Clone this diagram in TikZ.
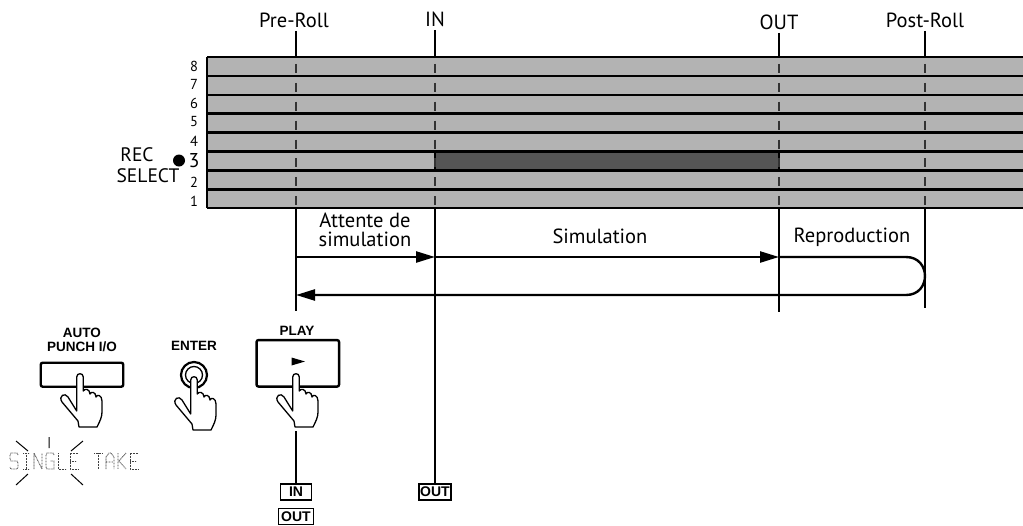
\documentclass[tikz,border=0pt]{standalone}
\usepackage{fontspec}
\setmainfont{PT Sans}
\newfontfamily\keyfont{Liberation Sans}
\usetikzlibrary{arrows.meta}
\definecolor{trackgray}{HTML}{B3B3B3}
\definecolor{recgray}{HTML}{555555}
\tikzset{
  thinline/.style={line width=1.3pt},
  trackline/.style={line width=2.5pt},
  markline/.style={line width=2pt, draw=black!80, dash pattern=on 9pt off 9.9pt, dash phase=12pt},
  flow/.style={line width=2.4pt},
  tip/.style={-{Triangle[length=19pt,width=11pt]}},
  keylabel/.style={font=\keyfont\bfseries\fontsize{13.5}{14}\selectfont, align=center, inner sep=0pt},
  keybox/.style={draw, line width=1.3pt, font=\keyfont\bfseries\fontsize{14}{14}\selectfont,
                 minimum width=31pt, minimum height=16pt, inner sep=1.2pt},
  button/.style={draw, line width=2.4pt, rounded corners=2pt},
  tracknum/.style={font=\fontsize{14.5}{14.5}\selectfont, inner sep=0pt},
  lcd/.style={draw=black!75, line width=0.8pt, dash pattern=on 0.8pt off 0.7pt},
  % pointing hand, origin at the finger tip
  hand/.pic={
    \filldraw[fill=white, line width=1.3pt, line join=round]
      (-3.3,4) -- (-3.3,38) -- (-12,24)
      .. controls (-15,19) and (-22,23) .. (-18,29)
      -- (-2,48) -- (-1,54) -- (17,54)
      .. controls (20,48) and (22,44) .. (22,39) -- (22,28)
      .. controls (22,22) and (17,21) .. (16,24)
      .. controls (16,19) and (11,18) .. (10,21)
      .. controls (10,16) and (4.5,15) .. (3.3,18)
      -- (3.3,4) .. controls (3.3,-0.4) and (-3.3,-0.4) .. (-3.3,4) -- cycle;
  }
}
\begin{document}
\begin{tikzpicture}[x=1pt, y=-1pt, font=\fontsize{20.5}{20.5}\selectfont]
\useasboundingbox (0,0) rectangle (1023,525);

% time marks
\coordinate (pre) at (296,208);
\coordinate (in) at (435,208);
\coordinate (out) at (779,208);
\coordinate (post) at (925,208);

% the eight tracks
\fill[trackgray] (207,57) rectangle (1023,208);
\filldraw[fill=recgray, line width=2pt] (435,151.5) rectangle (779,170.4);
\foreach \x in {296,435,779,925}
  \draw[markline] (\x,57) -- (\x,208);
\foreach \k in {0,...,8}
  \draw[trackline] (207,57+18.9*\k) -- (1023,57+18.9*\k);
\draw[trackline] (207,57) -- (207,208);

\foreach \n/\y in {8/66,7/84,6/103,5/122,4/141,2/182,1/201}
  \node[tracknum] (trk\n) at (194,\y) {\n};
\node[inner sep=0pt, font=\fontsize{20}{20}\selectfont] (trk3) at (194,161) {3};
\fill (179,160.5) circle (6);
\node[inner sep=0pt, font=\fontsize{19.5}{19.5}\selectfont] (rec) at (137,155) {REC};
\node[inner sep=0pt, font=\fontsize{19.5}{19.5}\selectfont] (select) at (148,176) {SELECT};

% labels on top
\node (prelbl) at (294,20) {Pre-Roll};
\node (inlbl) at (435,19) {IN};
\node (outlbl) at (779,22) {OUT};
\node (postlbl) at (925,20) {Post-Roll};
\draw[thinline] (prelbl.south -| pre) -- (296,57);
\draw[thinline] (inlbl.south) -- (435,57);
\draw[thinline] (outlbl.south) -- (779,57);
\draw[thinline] (postlbl.south) -- (925,57);

% lines under the tracks
\node[keybox] (outkey2) at (435,492) {OUT};
\draw[thinline] (pre) -- ++(0,103);
\draw[thinline] (in) -- (outkey2.north);
\draw[thinline] (out) -- ++(0,104);
\draw[thinline] (post) -- ++(0,100);

% rehearsal loop
\coordinate (a0) at (296,257);
\coordinate (a1) at (435,257);
\coordinate (a2) at (779,257);
\coordinate (a3) at (906,257);
\coordinate (b3) at (906,295);
\coordinate (b0) at (296,295);
\draw[flow, tip] (a0) -- (a1);
\draw[flow, tip] (a1) -- (a2);
\draw[flow, tip] (a2) -- (a3) .. controls (931.3,257) and (931.3,295) .. (b3) -- (b0);
\node[align=center, inner sep=0pt, font=\fontsize{20.5}{19}\selectfont] (wait) at (365,230) {Attente de\\simulation};
\node (sim) at (600,236) {Simulation};
\node (repro) at (852,237) {Reproduction};

% keys
\node[keylabel] (punchlbl) at (82,339.5) {AUTO\\PUNCH I/O};
\node[button, minimum width=82.5pt, minimum height=24pt] (punch) at (82,374.7) {};
\pic at (80,373) {hand};

\node[keylabel] (enterlbl) at (194,346) {ENTER};
\draw[line width=2.2pt] (194,375) circle (13);
\draw[line width=1.3pt] (194,375) circle (8.5);
\pic at (194,376) {hand};

\node[keylabel] (playlbl) at (297,331) {PLAY};
\node[button, minimum width=82.5pt, minimum height=46.5pt] (play) at (297.8,363.3) {};
\fill (291.5,357.5) -- (305,361.5) -- (291.5,365.5) -- cycle;
\pic at (296,373) {hand};

\node[keybox] (inkey) at (296,492) {IN};
\node[keybox, minimum width=35pt] (outkey) at (296,516.5) {OUT};
\draw[thinline] (296,431) -- (inkey.north);

% display
\begin{scope}[shift={(10,453)}, lcd]
  % S
  \draw (8,2) -- (7,0) -- (1,0) -- (0,2) -- (0,6) -- (1,8) -- (7,8) -- (8,10) -- (8,14) -- (7,16) -- (1,16) -- (0,14);
  % I
  \draw[xshift=12pt] (1,0) -- (7,0) (4,0) -- (4,16) (1,16) -- (7,16);
  % N
  \draw[xshift=24pt] (0,16) -- (0,0) -- (8,16) -- (8,0);
  % G
  \draw[xshift=36pt] (8,2) -- (7,0) -- (1,0) -- (0,2) -- (0,14) -- (1,16) -- (8,16) -- (8,8) -- (4,8);
  % L
  \draw[xshift=48pt] (0,0) -- (0,16) -- (8,16);
  % E
  \draw[xshift=60pt] (8,0) -- (0,0) -- (0,16) -- (8,16) (0,8) -- (6,8);
  % T
  \draw[xshift=84pt] (0,0) -- (8,0) (4,0) -- (4,16);
  % A
  \draw[xshift=96pt] (0,16) -- (0,4) -- (3,0) -- (5,0) -- (8,4) -- (8,16) (0,9) -- (8,9);
  % K
  \draw[xshift=108pt] (0,0) -- (0,16) (8,0) -- (1,8) -- (8,16) (0,8) -- (1,8);
  % E
  \draw[xshift=120pt] (8,0) -- (0,0) -- (0,16) -- (8,16) (0,8) -- (6,8);
\end{scope}
% blinking
\draw[line width=1pt] (16,441) -- (28,451) (49,437) -- (49,448) (71,451) -- (83,441)
  (16,485) -- (28,474) (71,474) -- (83,485);

\end{tikzpicture}
\end{document}
